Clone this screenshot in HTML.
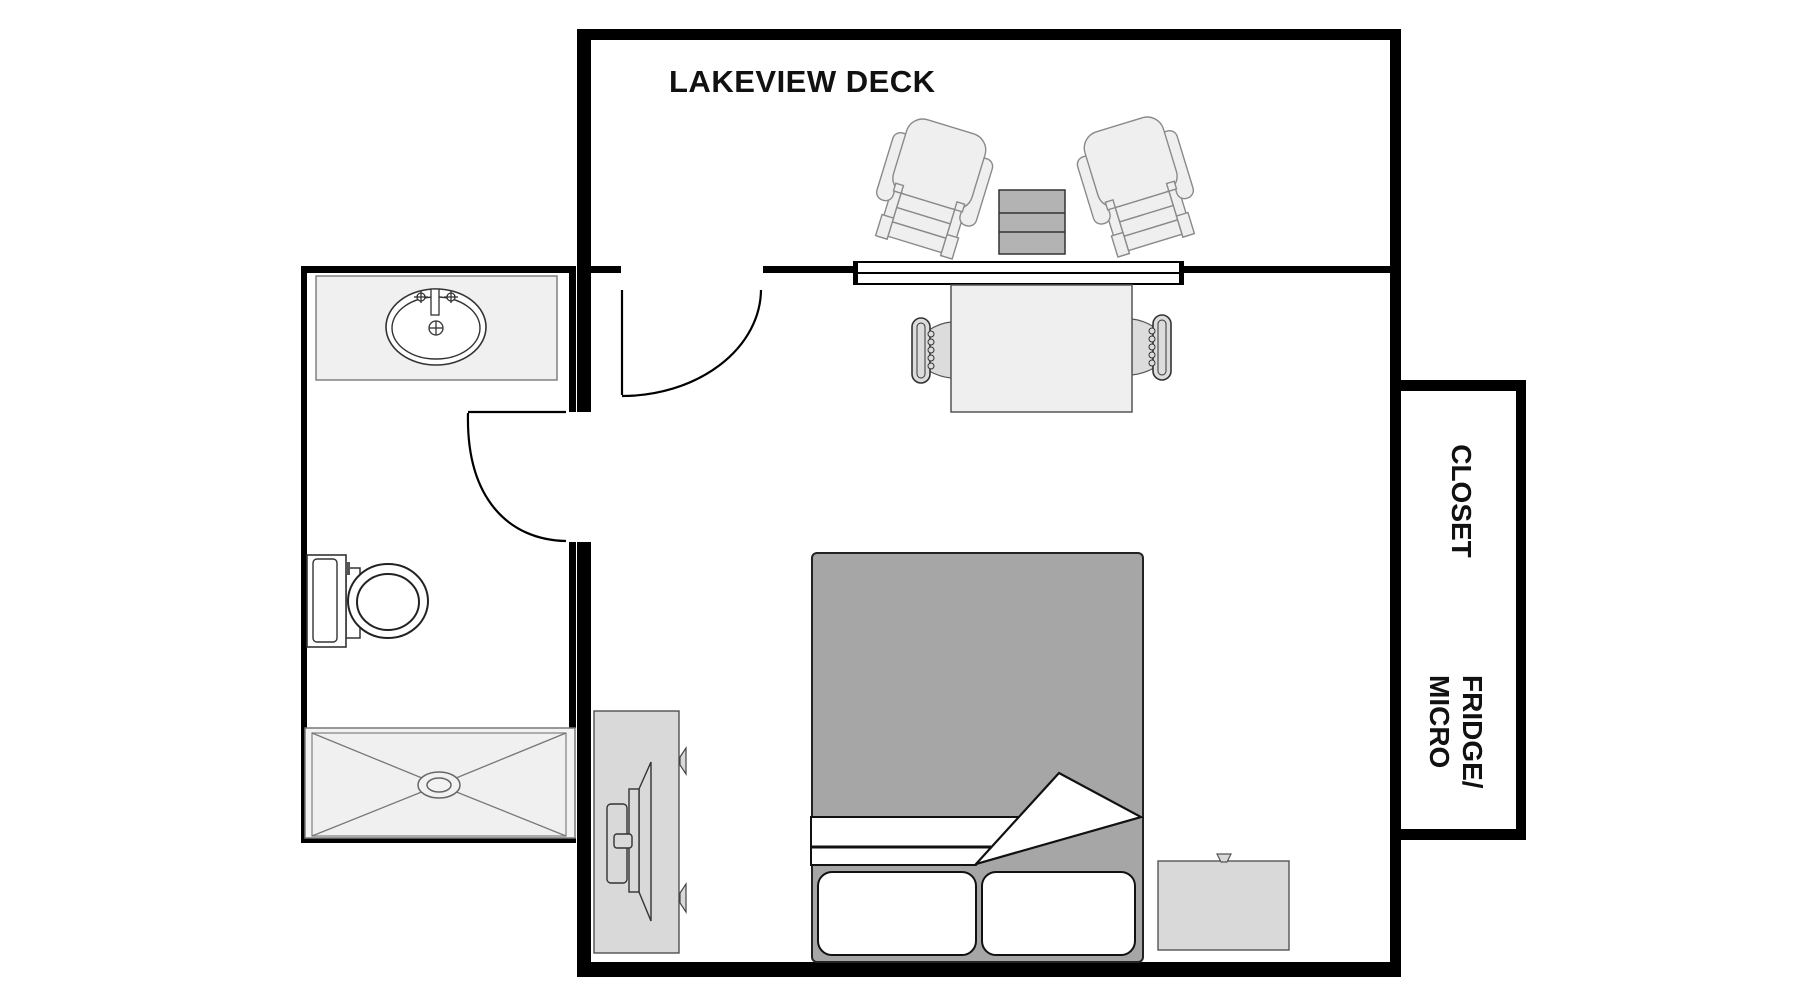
<!DOCTYPE html>
<html>
<head>
<meta charset="utf-8">
<style>
html,body{margin:0;padding:0;background:#fff;}
svg{display:block;}
text{font-family:"Liberation Sans",Arial,sans-serif;}
</style>
</head>
<body>
<svg width="1800" height="1000" viewBox="0 0 1800 1000" xmlns="http://www.w3.org/2000/svg">
<defs>
  <g id="armchair" fill="#efefef" stroke="#8a8a8a" stroke-width="1.4">
    <!-- footrest -->
    <rect x="-38" y="4" width="10" height="58"/>
    <rect x="28" y="4" width="10" height="58"/>
    <rect x="-28" y="14" width="56" height="15"/>
    <rect x="-28" y="29" width="56" height="15"/>
    <rect x="-28" y="44" width="56" height="15"/>
    <rect x="-40" y="40" width="12" height="22"/>
    <rect x="28" y="40" width="12" height="22"/>
    <!-- arms -->
    <rect x="-52" y="-44" width="17" height="70" rx="8"/>
    <rect x="35" y="-44" width="17" height="70" rx="8"/>
    <!-- back -->
    <rect x="-41" y="-64" width="82" height="78" rx="17"/>
    <rect x="-36" y="6" width="8" height="8"/>
    <rect x="28" y="6" width="8" height="8"/>
  </g>
  <g id="dchair">
    <path d="M929 330 Q940 323 951 322 L951 378 Q940 377 929 371 Z" fill="#dcdcdc" stroke="#555" stroke-width="1.2"/>
    <rect x="912" y="318" width="18" height="65" rx="9" fill="#dcdcdc" stroke="#333" stroke-width="1.6"/>
    <rect x="917" y="323" width="8" height="55" rx="4" fill="none" stroke="#333" stroke-width="1"/>
    <g fill="#dcdcdc" stroke="#333" stroke-width="1">
      <circle cx="931" cy="334" r="3"/>
      <circle cx="931" cy="342" r="3"/>
      <circle cx="931" cy="350" r="3"/>
      <circle cx="931" cy="358" r="3"/>
      <circle cx="931" cy="366" r="3"/>
    </g>
  </g>
</defs>

<!-- ===== Walls: main room ===== -->
<g fill="#000">
  <rect x="577" y="29" width="824" height="11"/>
  <rect x="577" y="29" width="14" height="383"/>
  <rect x="577" y="542" width="14" height="435"/>
  <rect x="1390" y="29" width="11" height="948"/>
  <rect x="577" y="962" width="824" height="15"/>
  <!-- partition -->
  <rect x="591" y="266" width="30" height="7"/>
  <rect x="763" y="266" width="91" height="7"/>
  <rect x="1183" y="266" width="207" height="7"/>
  <!-- bathroom -->
  <rect x="301" y="266" width="6" height="577"/>
  <rect x="301" y="266" width="275" height="7"/>
  <rect x="569" y="266" width="7" height="146"/>
  <rect x="569" y="542" width="7" height="186"/>
  <rect x="301" y="838" width="275" height="5"/>
  <!-- closet -->
  <rect x="1401" y="380" width="125" height="11"/>
  <rect x="1516" y="380" width="10" height="460"/>
  <rect x="1401" y="829" width="125" height="11"/>
</g>

<!-- glass sliding door -->
<rect x="855" y="262" width="327" height="22" fill="#fff" stroke="#000" stroke-width="2"/>
<line x1="856" y1="273" x2="1181" y2="273" stroke="#000" stroke-width="2"/>
<rect x="853" y="261" width="5" height="24" fill="#000"/>
<rect x="1179" y="261" width="5" height="24" fill="#000"/>

<!-- deck door -->
<g fill="none" stroke="#000" stroke-width="2.2">
  <line x1="622" y1="290" x2="622" y2="395"/>
  <path d="M622 396 A139 107 0 0 0 761 290"/>
</g>
<!-- bath door -->
<g fill="none" stroke="#000" stroke-width="2.2">
  <line x1="468" y1="412" x2="566" y2="412"/>
  <path d="M468 413 C466 500 510 540 566 541"/>
</g>

<!-- ===== LAKEVIEW DECK ===== -->
<text x="669" y="92" font-size="31" font-weight="bold" letter-spacing="0.5" fill="#111">LAKEVIEW DECK</text>

<!-- armchairs -->
<use href="#armchair" transform="translate(932,188) rotate(17)"/>
<use href="#armchair" transform="translate(1138,186) scale(-1,1) rotate(17)"/>

<!-- small cabinet -->
<rect x="999" y="190" width="66" height="64" fill="#b3b3b3" stroke="#333" stroke-width="1.5"/>
<line x1="999" y1="213" x2="1065" y2="213" stroke="#333" stroke-width="1.5"/>
<line x1="999" y1="232" x2="1065" y2="232" stroke="#333" stroke-width="1.5"/>

<!-- dining table + chairs -->
<use href="#dchair"/>
<use href="#dchair" transform="translate(2083,-3) scale(-1,1)"/>
<rect x="951" y="285" width="181" height="127" fill="#efefef" stroke="#555" stroke-width="1.5"/>

<!-- ===== Bathroom fixtures ===== -->
<!-- vanity -->
<rect x="316" y="276" width="241" height="104" fill="#f0f0f0" stroke="#808080" stroke-width="1.5"/>
<ellipse cx="436" cy="327" rx="50" ry="38" fill="#fff" stroke="#333" stroke-width="1.6"/>
<ellipse cx="436" cy="328" rx="44" ry="31" fill="#fff" stroke="#333" stroke-width="1.4"/>
<rect x="431" y="289" width="8" height="26" fill="#fff" stroke="#333" stroke-width="1.3"/>
<g stroke="#333" stroke-width="1.3" fill="#fff">
  <circle cx="421" cy="297" r="4"/>
  <circle cx="451" cy="297" r="4"/>
  <line x1="414" y1="297" x2="428" y2="297"/>
  <line x1="421" y1="291" x2="421" y2="303"/>
  <line x1="444" y1="297" x2="458" y2="297"/>
  <line x1="451" y1="291" x2="451" y2="303"/>
  <circle cx="436" cy="328" r="7"/>
  <line x1="429" y1="328" x2="443" y2="328"/>
  <line x1="436" y1="321" x2="436" y2="335"/>
</g>

<!-- toilet -->
<rect x="346" y="568" width="14" height="70" fill="#fff" stroke="#333" stroke-width="1.5"/>
<ellipse cx="388" cy="601" rx="40" ry="37" fill="#fff" stroke="#222" stroke-width="2"/>
<ellipse cx="388" cy="602" rx="31" ry="28" fill="#fff" stroke="#222" stroke-width="2"/>
<rect x="307" y="555" width="39" height="92" fill="#fff" stroke="#333" stroke-width="1.6"/>
<rect x="313" y="559" width="24" height="83" rx="4" fill="#fff" stroke="#333" stroke-width="1.4"/>
<rect x="346" y="562" width="4" height="13" fill="#555"/>

<!-- shower -->
<rect x="305" y="728" width="270" height="110" fill="#f2f2f2" stroke="#777" stroke-width="1.5"/>
<rect x="312" y="733" width="254" height="103" fill="#f0f0f0" stroke="#888" stroke-width="1.3"/>
<g stroke="#777" stroke-width="1.3">
  <line x1="312" y1="733" x2="439" y2="785"/>
  <line x1="566" y1="733" x2="439" y2="785"/>
  <line x1="312" y1="836" x2="439" y2="785"/>
  <line x1="566" y1="836" x2="439" y2="785"/>
</g>
<ellipse cx="439" cy="785" rx="21" ry="13" fill="#f2f2f2" stroke="#666" stroke-width="1.5"/>
<ellipse cx="439" cy="785" rx="12" ry="7" fill="#f2f2f2" stroke="#666" stroke-width="1.5"/>

<!-- ===== Dresser / TV ===== -->
<rect x="594" y="711" width="85" height="242" fill="#d9d9d9" stroke="#444" stroke-width="1.3"/>
<polygon points="680,757 686,748 686,774 680,765" fill="#d9d9d9" stroke="#444" stroke-width="1.2"/>
<polygon points="680,893 686,884 686,912 680,903" fill="#d9d9d9" stroke="#444" stroke-width="1.2"/>
<g fill="#d9d9d9" stroke="#333" stroke-width="1.4">
  <polygon points="651,762 651,921 639,892 639,789"/>
  <rect x="629" y="789" width="10" height="103"/>
  <rect x="607" y="804" width="20" height="79" rx="4"/>
  <rect x="614" y="834" width="18" height="14" rx="3"/>
</g>

<!-- ===== Bed ===== -->
<rect x="812" y="553" width="331" height="409" rx="5" fill="#a6a6a6" stroke="#222" stroke-width="2"/>
<polygon points="811,817 1019,817 976,865 811,865" fill="#fff" stroke="#111" stroke-width="2"/>
<line x1="811" y1="847" x2="991" y2="847" stroke="#111" stroke-width="3"/>
<polygon points="976,864 1059,773 1141,817" fill="#fff" stroke="#111" stroke-width="2.2" stroke-linejoin="miter"/>
<rect x="818" y="872" width="158" height="83" rx="14" fill="#fff" stroke="#111" stroke-width="2"/>
<rect x="982" y="872" width="153" height="83" rx="14" fill="#fff" stroke="#111" stroke-width="2"/>

<!-- nightstand -->
<rect x="1158" y="861" width="131" height="89" fill="#d9d9d9" stroke="#555" stroke-width="1.4"/>
<polygon points="1217,854 1231,854 1227,862 1221,862" fill="#d9d9d9" stroke="#555" stroke-width="1.2"/>

<!-- ===== Closet labels ===== -->
<g font-size="28" font-weight="bold" fill="#111">
  <text transform="translate(1452,501) rotate(90)" text-anchor="middle">CLOSET</text>
  <text transform="translate(1463,675) rotate(90)">FRIDGE/</text>
  <text transform="translate(1430,675) rotate(90)">MICRO</text>
</g>
</svg>
</body>
</html>
